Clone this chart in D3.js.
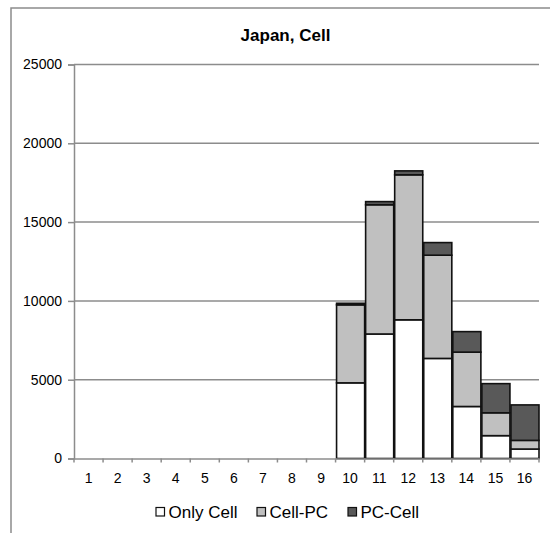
<!DOCTYPE html>
<html><head><meta charset="utf-8">
<script src="https://cdn.jsdelivr.net/npm/d3@7"></script>
<style>body{margin:0;background:#fff}svg{display:block;font-family:"Liberation Sans",Arial,sans-serif}</style>
</head><body>
<svg id="c" width="550" height="533"></svg>
<script>
const categories = ["1","2","3","4","5","6","7","8","9","10","11","12","13","14","15","16"];
const onlyCell = [0,0,0,0,0,0,0,0,0,4800,7900,8800,6350,3300,1450,600];
const cellPC   = [0,0,0,0,0,0,0,0,0,4950,8200,9200,6550,3450,1450,550];
const pcCell   = [0,0,0,0,0,0,0,0,0,100,200,250,800,1300,1850,2250];
const seriesNames = ["Only Cell","Cell-PC","PC-Cell"];
const yTicks = [0,5000,10000,15000,20000,25000];
const colors = ["#ffffff","#c0c0c0","#595959"];

const svg = d3.select("#c");
const pLeft = 74, pRight = 539, pTop = 64.5, pBottom = 458.5;

// outer frame
svg.append("path").attr("d", `M11,534 L11,8 L551,8`).attr("fill","none").attr("stroke","#8c8c8c").attr("stroke-width",1.5);

svg.append("text").attr("x",285.5).attr("y",41).attr("text-anchor","middle")
  .attr("font-size","17px").attr("font-weight","bold").text("Japan, Cell");

const x = d3.scaleBand().domain(categories).range([pLeft,pRight]).padding(0);
const y = d3.scaleLinear().domain([0,25000]).range([pBottom,pTop]);

// gridlines
svg.append("g").selectAll("line").data(yTicks.slice(1)).join("line")
  .attr("x1",pLeft).attr("x2",pRight).attr("y1",d=>y(d)).attr("y2",d=>y(d))
  .attr("stroke","#8c8c8c").attr("stroke-width",1.5);

// y axis
const ya = svg.append("g").attr("transform",`translate(${pLeft},0)`)
  .call(d3.axisLeft(y).tickValues(yTicks).tickSize(6).tickPadding(6).tickFormat(d=>String(d)));
ya.select(".domain").attr("stroke","#8c8c8c").attr("stroke-width",1.5);
ya.selectAll(".tick line").attr("stroke","#8c8c8c").attr("stroke-width",1.5);
ya.selectAll("text").attr("font-size","14px").attr("fill","#000").attr("font-family","Liberation Sans, Arial, sans-serif");

// stacked bars
const rows = categories.map((c,i)=>({cat:c,"Only Cell":onlyCell[i],"Cell-PC":cellPC[i],"PC-Cell":pcCell[i]}));
const stack = d3.stack().keys(seriesNames)(rows);
stack.forEach((s,si)=>{
  svg.append("g").selectAll("rect").data(s.filter(d=>d[1]-d[0]>0)).join("rect")
    .attr("x",d=>x(d.data.cat)+1).attr("width",x.bandwidth()-1)
    .attr("y",d=>y(d[1])).attr("height",d=>y(d[0])-y(d[1]))
    .attr("fill",colors[si]).attr("stroke","#111").attr("stroke-width",1.6);
});

// x axis
const xa = svg.append("g").attr("transform",`translate(0,${pBottom})`)
  .call(d3.axisBottom(x).tickSize(0).tickPadding(15));
xa.select(".domain").attr("stroke","#8c8c8c").attr("stroke-width",1.5);
xa.selectAll("text").attr("font-size","14px").attr("fill","#000").attr("font-family","Liberation Sans, Arial, sans-serif");
// boundary tick marks
svg.append("g").selectAll("line").data(categories.map((c,i)=>i).concat([categories.length])).join("line")
  .attr("x1",i=>pLeft+i*x.step()).attr("x2",i=>pLeft+i*x.step())
  .attr("y1",pBottom).attr("y2",pBottom+4).attr("stroke","#8c8c8c").attr("stroke-width",1.5);

// legend
const legX = [156,257,348];
const lg = svg.append("g");
seriesNames.forEach((n,i)=>{
  lg.append("rect").attr("x",legX[i]).attr("y",507.5).attr("width",8.5).attr("height",8.5)
    .attr("fill",colors[i]).attr("stroke","#111").attr("stroke-width",1.2);
  lg.append("text").attr("x",legX[i]+12.5).attr("y",518).attr("font-size","17px").text(n);
});
</script>
</body></html>
